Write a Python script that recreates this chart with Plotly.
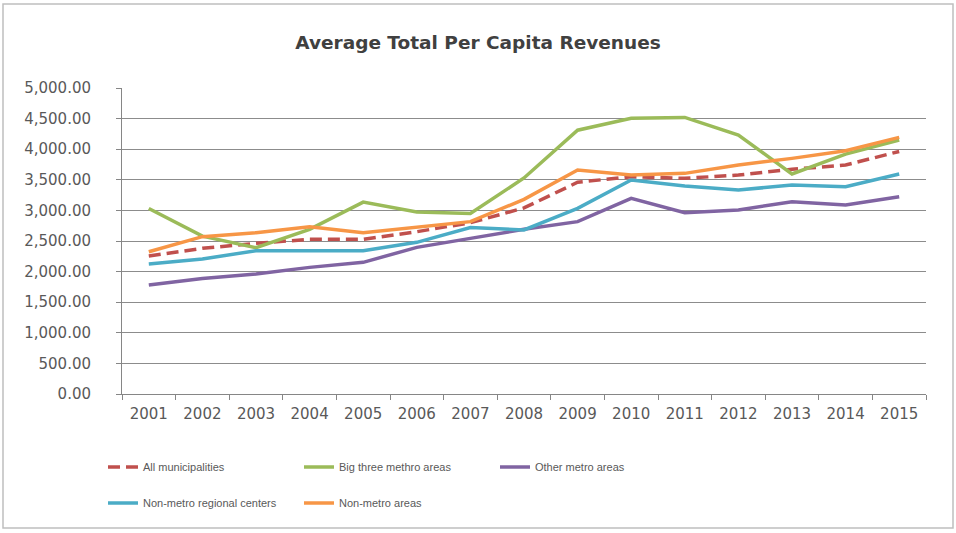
import plotly.graph_objects as go

years = ["2001", "2002", "2003", "2004", "2005", "2006", "2007", "2008",
         "2009", "2010", "2011", "2012", "2013", "2014", "2015"]

all_municipalities = [2255, 2380, 2462, 2527, 2527, 2652, 2799, 3040,
                      3460, 3550, 3524, 3578, 3671, 3742, 3963]
big_three_metro = [3030, 2580, 2390, 2690, 3135, 2975, 2950, 3530,
                   4310, 4505, 4520, 4232, 3595, 3920, 4150]
other_metro = [1780, 1889, 1961, 2069, 2151, 2396, 2543, 2691,
               2816, 3196, 2963, 3007, 3142, 3088, 3224]
non_metro_regional = [2124, 2206, 2342, 2342, 2342, 2478, 2720, 2680,
                      3033, 3497, 3399, 3333, 3415, 3388, 3595]
non_metro_areas = [2325, 2571, 2636, 2734, 2636, 2720, 2816, 3180,
                   3660, 3578, 3605, 3742, 3850, 3976, 4194]

series_names = ["All municipalities", "Big three methro areas", "Other metro areas",
                "Non-metro regional centers", "Non-metro areas"]
series_values = [all_municipalities, big_three_metro, other_metro,
                 non_metro_regional, non_metro_areas]
colors = ["#C0504D", "#9BBB59", "#8064A2", "#4BACC6", "#F79646"]
dashes = ["12px,6px", "solid", "solid", "solid", "solid"]
legend_ids = ["legend", "legend", "legend", "legend2", "legend2"]

W, H = 956, 533
ML, MR, MT, MB = 122, 30, 88, 139

fig = go.Figure()
for name, vals, col, dsh, lg in zip(series_names, series_values, colors, dashes, legend_ids):
    fig.add_trace(go.Scatter(
        x=years, y=vals, name=name, mode="lines",
        line=dict(color=col, width=3.5, dash=dsh),
        legend=lg,
    ))

pw = W - ML - MR
ph = H - MT - MB
# chart outer border
fig.add_shape(type="rect", xref="paper", yref="paper",
              x0=(3 - ML) / pw, x1=(953 - ML) / pw,
              y0=-(528 - MT - ph) / ph, y1=1 + (MT - 4) / ph,
              line=dict(color="#BFBFBF", width=1.5), fillcolor="rgba(0,0,0,0)",
              layer="below")

tick_font = dict(family="DejaVu Sans, sans-serif", size=15, color="#595959")
legend_font = dict(family="Liberation Sans, Arial, sans-serif", size=11, color="#595959")
fig.update_layout(
    width=W, height=H,
    margin=dict(l=ML, r=MR, t=MT, b=MB),
    paper_bgcolor="white", plot_bgcolor="white",
    title=dict(text="<b>Average Total Per Capita Revenues</b>",
               x=0.5, xanchor="center", xref="container",
               y=1 - 43 / H, yanchor="middle", yref="container",
               font=dict(family="DejaVu Sans, sans-serif", size=18.5, color="#404040")),
    xaxis=dict(type="category", range=[-0.5, 14.5], showgrid=False, showline=True,
               linecolor="#868686", linewidth=1, ticks="outside", tickson="boundaries",
               ticklen=5, tickcolor="#868686", tickfont=tick_font,
               ticklabelstandoff=6),
    yaxis=dict(range=[0, 5000], dtick=500, tickformat=",.2f", showgrid=True,
               gridcolor="#8C8C8C", gridwidth=1, showline=True, linecolor="#868686",
               linewidth=1, ticks="outside", ticklen=5, tickcolor="#868686",
               zeroline=False, tickfont=tick_font, ticklabelstandoff=22),
    legend=dict(orientation="h", xref="container", yref="container",
                x=103 / W, xanchor="left", y=1 - 467 / H, yanchor="middle",
                entrywidth=151, entrywidthmode="pixels", font=legend_font,
                bgcolor="rgba(0,0,0,0)"),
    legend2=dict(orientation="h", xref="container", yref="container",
                 x=103 / W, xanchor="left", y=1 - 503 / H, yanchor="middle",
                 entrywidth=151, entrywidthmode="pixels", font=legend_font,
                 bgcolor="rgba(0,0,0,0)"),
    showlegend=True,
)

fig.write_html("out.html", config={"displayModeBar": False},
               post_script="document.body.style.margin='0';document.body.style.overflow='hidden';")
